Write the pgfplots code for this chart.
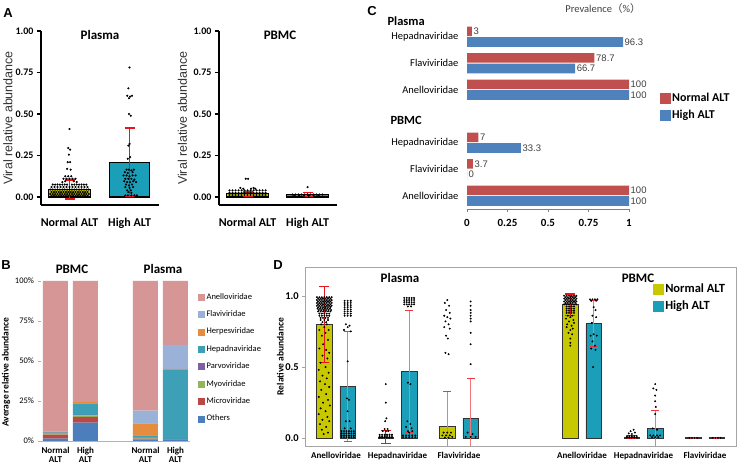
\documentclass[border=0pt]{standalone}
\usepackage{pgfplots}
\pgfplotsset{compat=1.18}
\usepackage{fontspec}
\setmainfont{Carlito}
\newfontfamily\arial{Liberation Sans}
\newfontfamily\cjk{Noto Sans CJK SC}
\newcommand{\fs}[1]{\fontsize{#1}{#1}\selectfont}
\definecolor{yel}{RGB}{200,200,0}
\definecolor{tea}{RGB}{27,158,184}
\definecolor{cred}{RGB}{192,80,77}
\definecolor{cblue}{RGB}{79,129,189}
\definecolor{errA}{RGB}{235,20,30}
\definecolor{errD}{RGB}{242,120,120}
\definecolor{bAnel}{RGB}{214,150,150}
\definecolor{bFlav}{RGB}{155,178,216}
\definecolor{bHerp}{RGB}{230,140,62}
\definecolor{bHepa}{RGB}{62,160,182}
\definecolor{bParv}{RGB}{126,96,160}
\definecolor{bMyo}{RGB}{148,182,90}
\definecolor{bMicr}{RGB}{186,72,70}
\definecolor{bOth}{RGB}{75,126,186}
\pgfplotsset{every axis/.append style={scale only axis, clip=false, /pgf/number format/assume math mode=true}}
\pgfplotsset{
 panelA/.style={anchor=south west, width=118pt, height=174pt, xmin=0.525, xmax=2.49, ymin=-0.048, ymax=1.0,
  axis x line*=bottom, axis y line*=left, axis line style={line width=1.5pt,-},
  xtick={1,2}, xticklabels={Normal ALT,High ALT}, xtick style={draw=none},
  x tick label style={font=\fs{12}\bfseries, yshift=-6pt},
  ytick={0,0.25,0.5,0.75,1},
  y tick label style={font=\fs{10}\bfseries, /pgf/number format/.cd, fixed, fixed zerofill, precision=2},
  ytick style={line width=1.2pt, black}, tick align=outside, major tick length=4pt,
  ylabel={Viral relative abundance}, ylabel style={font=\arial\fs{12.5}, color=black!80, anchor=center},
 },
 dots/.style={only marks, mark=*, mark size=0.85pt, black},
 nomark/.style={only marks, mark=*, mark options={draw opacity=0, fill opacity=0}},
 errAst/.style={nomark, error bars/.cd, y dir=both, y explicit, error bar style={errA, line width=1.5pt}, error mark options={rotate=90, errA, mark size=5pt, line width=1.5pt}},
 errDst/.style={nomark, error bars/.cd, y dir=both, y explicit, error bar style={errD, line width=0.9pt}, error mark options={rotate=90, errA!85, mark size=4pt, line width=1pt}},
 errDstrong/.style={nomark, error bars/.cd, y dir=both, y explicit, error bar style={errA, line width=1.2pt}, error mark options={rotate=90, errA, mark size=5pt, line width=1.2pt}},
}
\begin{document}
\begin{tikzpicture}
\useasboundingbox[fill=white] (0pt,0pt) rectangle (740pt,470pt);

%================ A: Plasma
\begin{axis}[panelA, at={(41pt,265pt)}, ylabel style={at={(axis description cs:-0.28,0.5)}}]
\addplot[ybar, bar width=42pt, bar shift=0pt, fill=yel, draw=black, line width=1.2pt] coordinates {(1,0.045)};
\addplot[ybar, bar width=40pt, bar shift=0pt, fill=tea, draw=black, line width=1.2pt] coordinates {(2,0.21)};
\addplot[dots] coordinates {(1.00,0.41)(0.98,0.295)(1.01,0.285)(0.99,0.255)(0.97,0.21)(1.01,0.21)(0.96,0.17)(1.02,0.165)(0.93,0.125)(0.98,0.125)(1.03,0.125)(0.90,0.11)(0.95,0.11)(1.00,0.11)(1.05,0.11)(1.10,0.11)(0.88,0.09)(0.93,0.095)(1.07,0.095)(1.12,0.09)
(0.72,0.075)(0.76,0.075)(0.80,0.075)(0.84,0.075)(0.88,0.075)(0.92,0.075)(0.96,0.075)(1.04,0.075)(1.08,0.075)(1.12,0.075)(1.16,0.075)(1.20,0.075)(1.24,0.075)(1.28,0.075)
(0.70,0.06)(0.75,0.06)(0.80,0.06)(0.85,0.06)(0.90,0.06)(0.95,0.06)(1.00,0.06)(1.05,0.06)(1.10,0.06)(1.15,0.06)(1.20,0.06)(1.25,0.06)(1.30,0.06)
(0.68,0.045)(0.72,0.045)(0.76,0.045)(0.80,0.045)(0.84,0.045)(0.88,0.045)(0.92,0.045)(0.96,0.045)(1.00,0.045)(1.04,0.045)(1.08,0.045)(1.12,0.045)(1.16,0.045)(1.20,0.045)(1.24,0.045)(1.28,0.045)(1.32,0.045)
(0.70,0.03)(0.74,0.03)(0.78,0.03)(0.82,0.03)(0.86,0.03)(0.90,0.03)(0.94,0.03)(0.98,0.03)(1.02,0.03)(1.06,0.03)(1.10,0.03)(1.14,0.03)(1.18,0.03)(1.22,0.03)(1.26,0.03)(1.30,0.03)
(0.68,0.018)(0.72,0.018)(0.76,0.018)(0.80,0.018)(0.84,0.018)(0.88,0.018)(0.92,0.018)(0.96,0.018)(1.00,0.018)(1.04,0.018)(1.08,0.018)(1.12,0.018)(1.16,0.018)(1.20,0.018)(1.24,0.018)(1.28,0.018)(1.32,0.018)
(0.70,0.007)(0.74,0.007)(0.78,0.007)(0.82,0.007)(0.86,0.007)(0.90,0.007)(0.94,0.007)(0.98,0.007)(1.02,0.007)(1.06,0.007)(1.10,0.007)(1.14,0.007)(1.18,0.007)(1.22,0.007)(1.26,0.007)(1.30,0.007)};
\addplot[dots] coordinates {(2.00,0.78)(1.98,0.655)(1.96,0.61)(2.01,0.605)(2.04,0.61)(1.99,0.595)(1.99,0.50)(2.02,0.49)(2.00,0.32)(1.98,0.31)(2.01,0.24)(1.97,0.23)
(1.95,0.165)(1.99,0.165)(2.03,0.16)(2.07,0.165)(1.92,0.15)(1.97,0.145)(2.05,0.15)(1.90,0.13)(1.95,0.13)(2.00,0.125)(2.05,0.13)(2.10,0.13)
(1.93,0.11)(1.98,0.11)(2.03,0.11)(2.08,0.105)(1.91,0.095)(1.96,0.09)(2.01,0.09)(2.06,0.095)(2.11,0.09)(1.94,0.075)(1.99,0.07)(2.04,0.075)
(1.93,0.06)(2.00,0.055)(2.06,0.06)(1.96,0.04)(2.02,0.04)(1.98,0.03)(2.03,0.025)(1.93,0.01)(1.97,0.01)(2.03,0.01)(2.08,0.01)(2.12,0.01)};
\addplot[errAst] coordinates {(1,0.045) +- (0,0.058) (2,0.21) +- (0,0.207)};
\end{axis}

%================ A: PBMC
\begin{axis}[panelA, at={(219pt,265pt)}, ylabel style={at={(axis description cs:-0.31,0.5)}}]
\addplot[ybar, bar width=42pt, bar shift=0pt, fill=yel, draw=black, line width=1.2pt] coordinates {(1,0.02)};
\addplot[ybar, bar width=42pt, bar shift=0pt, fill=tea, draw=black, line width=1.2pt] coordinates {(2,0.014)};
\addplot[dots] coordinates {(0.97,0.11)(1.01,0.11)(0.88,0.055)(0.93,0.05)(1.06,0.05)(1.10,0.055)(1.13,0.05)
(0.70,0.04)(0.75,0.04)(0.80,0.04)(0.85,0.04)(0.90,0.04)(0.95,0.04)(1.00,0.04)(1.05,0.04)(1.10,0.04)(1.15,0.04)(1.20,0.04)(1.25,0.04)(1.30,0.04)
(0.70,0.025)(0.75,0.025)(0.80,0.025)(0.85,0.025)(0.90,0.025)(0.95,0.025)(1.00,0.025)(1.05,0.025)(1.10,0.025)(1.15,0.025)(1.20,0.025)(1.25,0.025)(1.30,0.025)
(0.70,0.012)(0.75,0.012)(0.80,0.012)(0.85,0.012)(0.90,0.012)(0.95,0.012)(1.00,0.012)(1.05,0.012)(1.10,0.012)(1.15,0.012)(1.20,0.012)(1.25,0.012)(1.30,0.012)};
\addplot[dots] coordinates {(2.00,0.06)(1.75,0.015)(1.80,0.015)(1.85,0.015)(1.90,0.015)(1.95,0.015)(2.00,0.015)(2.05,0.015)(2.10,0.015)(2.15,0.015)(2.20,0.015)(2.25,0.015)
(1.78,0.008)(1.86,0.008)(1.94,0.008)(2.02,0.008)(2.10,0.008)(2.18,0.008)};
\addplot[errAst] coordinates {(1,0.017) +- (0,0.014) (2,0.015) +- (0,0.012)};
\end{axis}

%================ C
\begin{axis}[at={(467pt,261pt)}, anchor=south west, width=162pt, height=185.5pt,
 xmin=0, xmax=1, ymin=-0.5, ymax=6.5, xbar,
 axis x line*=bottom, axis y line*=left, x axis line style={gray,-}, y axis line style={draw=none},
 xtick={0,0.25,0.5,0.75,1}, x tick label style={font=\fs{11}\bfseries, yshift=-4pt},
 xtick style={draw=gray}, tick align=outside, major tick length=3pt,
 ytick={0,1,2,4,5,6}, yticklabels={Anelloviridae,Flaviviridae,Hepadnaviridae,Anelloviridae,Flaviviridae,Hepadnaviridae},
 ytick style={draw=none}, y tick label style={font=\fs{10.5}, xshift=-2pt},
 nodes near coords, point meta=explicit symbolic,
 nodes near coords style={font=\arial\fs{9.5}, color=black!75, anchor=west, inner sep=1.5pt},
 legend style={at={(1.17,0.647)}, anchor=north west, draw=none, fill=none, font=\fs{12}\bfseries, row sep=3pt},
 legend cell align=left,
]
\addlegendimage{legend image code/.code={\fill[cred] (0pt,-5pt) rectangle (10pt,5pt);}}
\addlegendimage{legend image code/.code={\fill[cblue] (0pt,-5pt) rectangle (10pt,5pt);}}
\addplot[xbar, bar width=9.6pt, bar shift=5.3pt, fill=cred, draw=none] table[meta=l] {
x y l
1 0 100
0.037 1 3.7
0.07 2 7
1 4 100
0.787 5 78.7
0.03 6 3
};
\addplot[xbar, bar width=9.6pt, bar shift=-5.3pt, fill=cblue, draw=none] table[meta=l] {
x y l
1 0 100
0 1 0
0.333 2 33.3
1 4 100
0.667 5 66.7
0.963 6 96.3
};
\legend{Normal ALT, High ALT}
\end{axis}

%================ B
\begin{axis}[at={(40.5pt,29pt)}, anchor=south west, width=150pt, height=160pt,
 ybar stacked, bar width=25pt, xmin=-0.5, xmax=4.5, ymin=0, ymax=100,
 axis x line*=bottom, axis y line*=left, x axis line style={gray!60,-}, y axis line style={draw=none},
 xtick={0,1,3,4}, xticklabels={Normal\\ALT, High\\ALT, Normal\\ALT, High\\ALT},
 x tick label style={align=center, font=\fs{9}\bfseries},
 xtick style={draw=none},
 ytick={0,25,50,75,100}, yticklabel={\pgfmathprintnumber{\tick}\%}, y tick label style={font=\fs{8.5}},
 ytick style={draw=gray!60}, tick align=outside, major tick length=3pt,
 ylabel={Average relative abundance}, ylabel style={font=\fs{9.5}\bfseries, at={(axis description cs:-0.23,0.43)}, anchor=center},
 legend style={at={(1.03,0.95)}, anchor=north west, draw=none, fill=none, font=\fs{8.5}, row sep=6pt},
 legend cell align=left,
]
\addlegendimage{legend image code/.code={\fill[bAnel] (0pt,-3pt) rectangle (6pt,3pt);}}
\addlegendimage{legend image code/.code={\fill[bFlav] (0pt,-3pt) rectangle (6pt,3pt);}}
\addlegendimage{legend image code/.code={\fill[bHerp] (0pt,-3pt) rectangle (6pt,3pt);}}
\addlegendimage{legend image code/.code={\fill[bHepa] (0pt,-3pt) rectangle (6pt,3pt);}}
\addlegendimage{legend image code/.code={\fill[bParv] (0pt,-3pt) rectangle (6pt,3pt);}}
\addlegendimage{legend image code/.code={\fill[bMyo] (0pt,-3pt) rectangle (6pt,3pt);}}
\addlegendimage{legend image code/.code={\fill[bMicr] (0pt,-3pt) rectangle (6pt,3pt);}}
\addlegendimage{legend image code/.code={\fill[bOth] (0pt,-3pt) rectangle (6pt,3pt);}}
\addplot[fill=bOth, draw=none] coordinates {(0,1.5)(1,11.5)(3,1.0)(4,1.0)};
\addplot[fill=bMicr, draw=none] coordinates {(0,2.5)(1,3.5)(3,0.5)(4,0.1)};
\addplot[fill=bMyo, draw=none] coordinates {(0,1.0)(1,1.0)(3,0.5)(4,0.1)};
\addplot[fill=bParv, draw=none] coordinates {(0,0.3)(1,0.3)(3,0.3)(4,0.1)};
\addplot[fill=bHepa, draw=none] coordinates {(0,0.2)(1,7.2)(3,1.2)(4,43.5)};
\addplot[fill=bHerp, draw=none] coordinates {(0,0.3)(1,0.8)(3,7.5)(4,0.2)};
\addplot[fill=bFlav, draw=none] coordinates {(0,0.1)(1,0.2)(3,8.0)(4,15.0)};
\addplot[fill=bAnel, draw=none] coordinates {(0,94.1)(1,75.5)(3,81.0)(4,40.0)};
\legend{Anelloviridae,Flaviviridae,Herpesviridae,Hepadnaviridae,Parvoviridae,Myoviridae,Microviridae,Others}
\end{axis}

%================ D
\begin{axis}[at={(305.25pt,24pt)}, anchor=south west, width=430.5pt, height=179pt, clip=true,
 xmin=-0.5, xmax=6.5, ymin=-0.054, ymax=1.202,
 axis line style={gray!70},
 xtick={0,1,2,4,5,6}, xticklabels={Anelloviridae,Hepadnaviridae,Flaviviridae,Anelloviridae,Hepadnaviridae,Flaviviridae},
 xtick style={draw=none}, x tick label style={font=\fs{9}\bfseries},
 ytick={0,0.5,1}, y tick label style={font=\fs{10.5}\bfseries, /pgf/number format/.cd, fixed, fixed zerofill, precision=1},
 ytick style={draw=gray!70}, tick align=outside, major tick length=3pt, ytick pos=left,
 ylabel={Relative abundance}, ylabel style={font=\fs{9.5}\bfseries, at={(axis description cs:-0.058,0.5)}, anchor=center},
 legend style={at={(0.80,0.93)}, anchor=north west, draw=none, fill=none, font=\fs{12.5}\bfseries, row sep=3pt},
 legend cell align=left,
]
\addlegendimage{legend image code/.code={\fill[yel] (0pt,-5pt) rectangle (10pt,5pt);}}
\addlegendimage{legend image code/.code={\fill[tea] (0pt,-5pt) rectangle (10pt,5pt);}}
\addplot[ybar, bar width=15.5pt, bar shift=-11.7pt, fill=yel, draw=black!80, line width=0.8pt] coordinates {(0,0.80)(1,0.008)(2,0.085)(4,0.937)(5,0.008)(6,0.003)};
\addplot[ybar, bar width=15.5pt, bar shift=11.7pt, fill=tea, draw=black!80, line width=0.8pt] coordinates {(0,0.366)(1,0.47)(2,0.14)(4,0.806)(5,0.068)(6,0.003)};
% Plasma Anelloviridae normal
\addplot[dots, mark size=0.75pt] coordinates {
(-0.31,0.99)(-0.27,0.99)(-0.23,0.99)(-0.19,0.99)(-0.15,0.99)(-0.11,0.99)(-0.07,0.99)
(-0.29,0.98)(-0.25,0.98)(-0.21,0.98)(-0.17,0.98)(-0.13,0.98)(-0.09,0.98)
(-0.31,0.97)(-0.27,0.97)(-0.23,0.97)(-0.19,0.97)(-0.15,0.97)(-0.11,0.97)(-0.07,0.97)
(-0.29,0.96)(-0.25,0.96)(-0.21,0.96)(-0.17,0.96)(-0.13,0.96)(-0.09,0.96)
(-0.31,0.95)(-0.27,0.95)(-0.23,0.95)(-0.19,0.95)(-0.15,0.95)(-0.11,0.95)(-0.07,0.95)
(-0.29,0.94)(-0.25,0.94)(-0.21,0.94)(-0.17,0.94)(-0.13,0.94)(-0.09,0.94)
(-0.31,0.93)(-0.27,0.93)(-0.23,0.93)(-0.19,0.93)(-0.15,0.93)(-0.11,0.93)(-0.07,0.93)
(-0.29,0.92)(-0.25,0.92)(-0.21,0.92)(-0.17,0.92)(-0.13,0.92)(-0.09,0.92)
(-0.30,0.91)(-0.26,0.91)(-0.22,0.91)(-0.18,0.91)(-0.14,0.91)(-0.10,0.91)
(-0.28,0.90)(-0.24,0.90)(-0.20,0.90)(-0.16,0.90)(-0.12,0.90)(-0.08,0.90)
(-0.29,0.89)(-0.25,0.89)(-0.21,0.89)(-0.17,0.89)(-0.13,0.89)(-0.09,0.89)
(-0.27,0.875)(-0.23,0.875)(-0.19,0.875)(-0.15,0.875)(-0.11,0.875)
(-0.27,0.86)(-0.23,0.86)(-0.19,0.86)(-0.15,0.86)(-0.11,0.86)
(-0.25,0.845)(-0.21,0.845)(-0.17,0.845)(-0.13,0.845)
(-0.25,0.83)(-0.19,0.83)(-0.13,0.83)(-0.22,0.815)(-0.16,0.815)
(-0.24,0.80)(-0.15,0.80)(-0.19,0.78)(-0.27,0.76)(-0.12,0.76)(-0.17,0.74)(-0.23,0.72)(-0.13,0.69)(-0.21,0.66)(-0.27,0.63)(-0.16,0.62)(-0.11,0.60)(-0.22,0.58)(-0.14,0.56)(-0.25,0.53)(-0.17,0.50)(-0.28,0.48)(-0.12,0.46)(-0.22,0.44)(-0.15,0.42)(-0.26,0.40)(-0.18,0.38)(-0.11,0.36)(-0.24,0.34)(-0.16,0.31)(-0.28,0.29)(-0.13,0.27)(-0.21,0.25)(-0.10,0.23)(-0.25,0.21)(-0.17,0.19)(-0.28,0.17)(-0.14,0.15)(-0.22,0.13)(-0.11,0.12)(-0.26,0.10)(-0.16,0.08)(-0.23,0.06)(-0.13,0.04)(-0.20,0.03)};
% Plasma Anelloviridae high
\addplot[dots, mark size=0.75pt] coordinates {
(0.14,0.965)(0.19,0.965)(0.24,0.965)(0.14,0.95)(0.19,0.95)(0.24,0.95)(0.14,0.935)(0.19,0.935)(0.24,0.935)(0.14,0.92)(0.19,0.92)(0.24,0.92)
(0.14,0.905)(0.19,0.905)(0.24,0.905)(0.14,0.89)(0.19,0.89)(0.24,0.89)(0.14,0.875)(0.19,0.875)(0.24,0.875)(0.14,0.86)(0.19,0.86)(0.24,0.86)
(0.16,0.80)(0.22,0.79)(0.19,0.78)(0.13,0.76)(0.24,0.75)(0.19,0.54)(0.18,0.28)(0.21,0.27)(0.19,0.19)(0.16,0.12)(0.22,0.12)(0.24,0.07)(0.14,0.07)
(0.09,0.05)(0.13,0.05)(0.17,0.05)(0.21,0.05)(0.25,0.05)(0.29,0.05)(0.09,0.035)(0.13,0.035)(0.17,0.035)(0.21,0.035)(0.25,0.035)(0.29,0.035)
(0.09,0.02)(0.13,0.02)(0.17,0.02)(0.21,0.02)(0.25,0.02)(0.29,0.02)(0.09,0.008)(0.13,0.008)(0.17,0.008)(0.21,0.008)(0.25,0.008)(0.29,0.008)};
% Plasma Hepadnaviridae
\addplot[dots, mark size=0.75pt] coordinates {
(0.71,0.025)(0.75,0.025)(0.79,0.025)(0.83,0.025)(0.87,0.025)(0.91,0.025)(0.71,0.015)(0.75,0.015)(0.79,0.015)(0.83,0.015)(0.87,0.015)(0.91,0.015)
(0.71,0.005)(0.75,0.005)(0.79,0.005)(0.83,0.005)(0.87,0.005)(0.91,0.005)
(0.76,0.05)(0.81,0.05)(0.85,0.05)(0.79,0.065)(0.84,0.065)(0.80,0.12)(0.82,0.14)(0.81,0.25)(0.81,0.38)
(1.11,0.985)(1.15,0.985)(1.19,0.985)(1.23,0.985)(1.27,0.985)(1.11,0.97)(1.15,0.97)(1.19,0.97)(1.23,0.97)(1.27,0.97)
(1.11,0.955)(1.15,0.955)(1.19,0.955)(1.23,0.955)(1.27,0.955)(1.11,0.94)(1.15,0.94)(1.19,0.94)(1.23,0.94)(1.27,0.94)
(1.17,0.925)(1.22,0.925)(1.17,0.39)(1.21,0.38)(1.16,0.12)(1.21,0.10)(1.14,0.08)(1.23,0.07)(1.17,0.05)(1.24,0.05)(1.19,0.04)
(1.09,0.02)(1.14,0.02)(1.19,0.02)(1.24,0.02)(1.29,0.02)(1.09,0.008)(1.14,0.008)(1.19,0.008)(1.24,0.008)(1.29,0.008)};
% Plasma Flaviviridae
\addplot[dots, mark size=0.75pt] coordinates {
(1.81,0.97)(1.77,0.95)(1.84,0.93)(1.79,0.90)(1.85,0.88)(1.76,0.86)(1.81,0.85)(1.86,0.84)(1.78,0.82)(1.83,0.80)(1.76,0.78)(1.85,0.77)(1.79,0.72)(1.82,0.70)(1.78,0.60)(1.83,0.59)
(1.75,0.04)(1.81,0.04)(1.87,0.04)(1.73,0.02)(1.79,0.02)(1.85,0.02)(1.89,0.01)(1.77,0.005)(1.83,0.005)
(2.19,0.96)(2.19,0.93)(2.19,0.90)(2.19,0.88)(2.19,0.86)(2.19,0.84)(2.19,0.82)(2.19,0.74)(2.19,0.66)(2.19,0.52)(2.14,0.04)(2.22,0.03)(2.11,0.01)(2.19,0.01)(2.27,0.01)};
% PBMC Anelloviridae
\addplot[dots, mark size=0.75pt] coordinates {
(3.71,1.0)(3.75,1.0)(3.79,1.0)(3.83,1.0)(3.87,1.0)(3.91,1.0)(3.73,0.99)(3.77,0.99)(3.81,0.99)(3.85,0.99)(3.89,0.99)
(3.71,0.98)(3.75,0.98)(3.79,0.98)(3.83,0.98)(3.87,0.98)(3.91,0.98)(3.73,0.97)(3.77,0.97)(3.81,0.97)(3.85,0.97)(3.89,0.97)
(3.71,0.96)(3.75,0.96)(3.79,0.96)(3.83,0.96)(3.87,0.96)(3.91,0.96)(3.73,0.95)(3.77,0.95)(3.81,0.95)(3.85,0.95)(3.89,0.95)
(3.71,0.94)(3.75,0.94)(3.79,0.94)(3.83,0.94)(3.87,0.94)(3.91,0.94)
(3.75,0.925)(3.79,0.925)(3.83,0.925)(3.87,0.925)(3.75,0.91)(3.79,0.91)(3.83,0.91)(3.87,0.91)(3.75,0.895)(3.79,0.895)(3.83,0.895)(3.87,0.895)(3.75,0.88)(3.79,0.88)(3.83,0.88)(3.87,0.88)
(3.77,0.86)(3.84,0.86)(3.81,0.85)(3.74,0.84)(3.86,0.83)(3.79,0.82)(3.87,0.81)(3.76,0.80)(3.83,0.79)(3.75,0.78)(3.85,0.77)(3.81,0.76)(3.78,0.74)(3.84,0.73)(3.81,0.70)(3.81,0.67)(3.81,0.65)
(4.13,0.975)(4.17,0.975)(4.21,0.975)(4.25,0.975)(4.15,0.965)(4.23,0.965)(4.19,0.92)(4.22,0.90)(4.17,0.86)(4.23,0.85)(4.16,0.81)(4.19,0.73)(4.24,0.72)(4.14,0.72)(4.17,0.68)(4.21,0.65)(4.15,0.63)(4.22,0.62)(4.18,0.50)};
% PBMC Hepadnaviridae and Flaviviridae
\addplot[dots, mark size=0.75pt] coordinates {
(4.84,0.06)(4.79,0.05)(4.86,0.04)(4.76,0.035)(4.81,0.03)(4.73,0.015)(4.77,0.015)(4.81,0.015)(4.85,0.015)(4.89,0.015)(4.73,0.005)(4.77,0.005)(4.81,0.005)(4.85,0.005)(4.89,0.005)
(5.19,0.38)(5.16,0.35)(5.21,0.34)(5.19,0.30)(5.19,0.26)(5.20,0.22)(5.19,0.17)(5.15,0.07)(5.22,0.06)(5.11,0.02)(5.16,0.02)(5.22,0.02)(5.27,0.02)(5.14,0.008)(5.19,0.008)(5.24,0.008)
(5.75,0.003)(5.79,0.003)(5.83,0.003)(5.87,0.003)(6.13,0.003)(6.17,0.003)(6.21,0.003)(6.25,0.003)};
\addplot[errDst] coordinates {(0.19,0.366) +- (0,0.385) (1.19,0.47) +- (0,0.43) (1.81,0.085) +- (0,0.245) (2.19,0.14) +- (0,0.28) (4.19,0.806) +- (0,0.16) (5.19,0.068) +- (0,0.13) (5.81,0.003) +- (0,0.002) (6.19,0.003) +- (0,0.002)};
\addplot[errDstrong] coordinates {(-0.19,0.80) +- (0,0.266) (0.81,0.008) +- (0,0.045) (3.81,0.937) +- (0,0.075) (4.81,0.008) +- (0,0.01)};
\legend{Normal ALT, High ALT}
\end{axis}

%================ text
\node[font=\arial\bfseries\fs{13}] at (8pt,457pt) {A};
\node[font=\bfseries\fs{13}] at (100pt,435pt) {Plasma};
\node[font=\bfseries\fs{13}] at (280pt,435pt) {PBMC};
\node[font=\arial\bfseries\fs{13}] at (372pt,459pt) {C};
\node[font=\fs{10.5}, color=black!75] at (603pt,461pt) {Prevalence{\cjk（}\%{\cjk）}};
\node[font=\bfseries\fs{12.5}, anchor=west] at (384pt,449pt) {Plasma};
\node[font=\bfseries\fs{12.5}, anchor=west] at (387pt,350pt) {PBMC};
\node[font=\arial\bfseries\fs{13}] at (6pt,205pt) {B};
\node[font=\bfseries\fs{13}] at (72pt,201pt) {PBMC};
\node[font=\bfseries\fs{13}] at (163pt,201pt) {Plasma};
\node[font=\arial\bfseries\fs{13}] at (278pt,205pt) {D};
\node[font=\bfseries\fs{13}] at (400pt,192pt) {Plasma};
\node[font=\bfseries\fs{13}] at (638pt,192pt) {PBMC};
\end{tikzpicture}
\end{document}
